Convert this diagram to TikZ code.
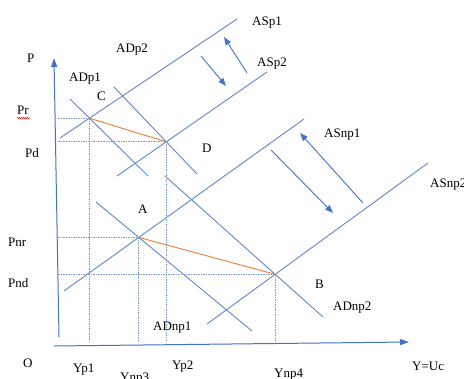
\documentclass[tikz,border=0pt]{standalone}
\usepackage{fontspec}
\setmainfont{Liberation Serif}
\usetikzlibrary{arrows.meta,decorations.pathmorphing}
\definecolor{lblue}{HTML}{4472C4}
\definecolor{lorange}{HTML}{ED7D31}
\begin{document}
\begin{tikzpicture}[x=1pt,y=-1pt,
  curve/.style={draw=lblue!85, line width=0.9pt},
  guide/.style={draw=lblue!70, line width=0.8pt, dash pattern=on 1.5pt off 1pt},
  link/.style={draw=lorange, line width=0.9pt},
  shiftarrow/.style={draw=lblue, line width=0.9pt, -{Triangle[length=8pt,width=6pt]}},
  axisline/.style={draw=lblue, line width=1pt, -{Triangle[length=9pt,width=6pt]}},
  lbl/.style={anchor=base west, inner sep=0pt, font=\fontsize{13}{15}\selectfont}]
\useasboundingbox (0,0) rectangle (464,379);
\fill[white] (0,0) rectangle (464,379);

% axes
\coordinate (yb) at (59,337);
\coordinate (yt) at (54,58);
\coordinate (xl) at (54,346);
\coordinate (xr) at (409,342);
\draw[axisline] (yb) -- (yt);
\draw[axisline] (xl) -- (xr);

% curve end points
\coordinate (asp1a) at (60,138);  \coordinate (asp1b) at (237,19);
\coordinate (asp2a) at (117,176); \coordinate (asp2b) at (267,72);
\coordinate (adp1a) at (70,99);   \coordinate (adp1b) at (148,176);
\coordinate (adp2a) at (114,87);  \coordinate (adp2b) at (197,174);
\coordinate (asnp1a) at (64,291); \coordinate (asnp1b) at (304,119);
\coordinate (asnp2a) at (207,324);\coordinate (asnp2b) at (428,163);
\coordinate (adnp1a) at (96,202); \coordinate (adnp1b) at (252,331);
\coordinate (adnp2a) at (165,176);\coordinate (adnp2b) at (323,317);

\draw[curve] (asp1a) -- (asp1b);
\draw[curve] (asp2a) -- (asp2b);
\draw[curve] (adp1a) -- (adp1b);
\draw[curve] (adp2a) -- (adp2b);
\draw[curve] (asnp1a) -- (asnp1b);
\draw[curve] (asnp2a) -- (asnp2b);
\draw[curve] (adnp1a) -- (adnp1b);
\draw[curve] (adnp2a) -- (adnp2b);

% equilibria
\path (intersection of asp1a--asp1b and adp1a--adp1b) coordinate (C);
\path (intersection of asp2a--asp2b and adp2a--adp2b) coordinate (D);
\path (intersection of asnp1a--asnp1b and adnp1a--adnp1b) coordinate (A);
\path (intersection of asnp2a--asnp2b and adnp2a--adnp2b) coordinate (B);

% guide lines
\coordinate (gl) at (58,0);
\coordinate (gb) at (0,341);
\draw[guide] (C -| gl) -- (C);
\draw[guide] (D -| gl) -- (D);
\draw[guide] (A -| gl) -- (A);
\draw[guide] (B -| gl) -- (B);
\draw[guide] (C) -- (C |- gb);
\draw[guide] (D) -- (D |- gb);
\draw[guide] (A) -- (A |- gb);
\draw[guide] (B) -- (B |- gb);

% orange links
\draw[link] (C) -- (D);
\draw[link] (A) -- (B);

% shift arrows
\coordinate (s1a) at (201,56);  \coordinate (s1b) at (226,86);
\coordinate (s2a) at (247,73);  \coordinate (s2b) at (224,37);
\coordinate (s3a) at (271,150); \coordinate (s3b) at (333,213);
\coordinate (s4a) at (363,203); \coordinate (s4b) at (300,133);
\draw[shiftarrow] (s1a) -- (s1b);
\draw[shiftarrow] (s2a) -- (s2b);
\draw[shiftarrow] (s3a) -- (s3b);
\draw[shiftarrow] (s4a) -- (s4b);

% labels
\node[lbl] (lP) at (27,63) {P};
\node[lbl] (lADp2) at (116,53) {ADp2};
\node[lbl] (lADp1) at (69,82) {ADp1};
\node[lbl] (lC) at (97,101) {C};
\node[lbl] (lPr) at (17,115) {Pr};
\draw[red, line width=0.5pt, decorate, decoration={snake, amplitude=0.6pt, segment length=2pt}] (17,118) -- (30,118);
\node[lbl] (lPd) at (25,158) {Pd};
\node[lbl] (lD) at (202,153) {D};
\node[lbl] (lASp1) at (252,26) {ASp1};
\node[lbl] (lASp2) at (257,67) {ASp2};
\node[lbl] (lASnp1) at (324,138) {ASnp1};
\node[lbl] (lASnp2) at (430,188) {ASnp2};
\node[lbl] (lA) at (138,214) {A};
\node[lbl] (lPnr) at (8,247) {Pnr};
\node[lbl] (lPnd) at (8,288) {Pnd};
\node[lbl] (lADnp1) at (153,331) {ADnp1};
\node[lbl] (lB) at (315,289) {B};
\node[lbl] (lADnp2) at (333,311) {ADnp2};
\node[lbl] (lO) at (23,368) {O};
\node[lbl] (lYp1) at (73,373) {Yp1};
\node[lbl] (lYnp3) at (120,382) {Ynp3};
\node[lbl] (lYp2) at (172,370) {Yp2};
\node[lbl] (lYnp4) at (274,378) {Ynp4};
\node[lbl] (lY) at (412,371) {Y=Uc};
\end{tikzpicture}
\end{document}
